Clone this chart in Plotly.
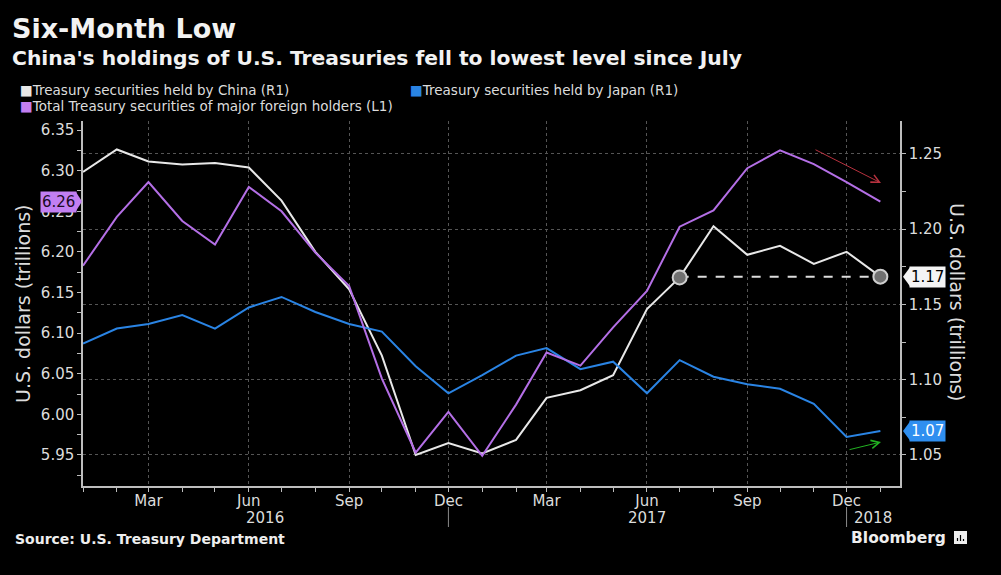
import plotly.graph_objects as go

# ---------------- data ----------------
months = ["2016-01-01", "2016-02-01", "2016-03-01", "2016-04-01", "2016-05-01", "2016-06-01",
          "2016-07-01", "2016-08-01", "2016-09-01", "2016-10-01", "2016-11-01", "2016-12-01",
          "2017-01-01", "2017-02-01", "2017-03-01", "2017-04-01", "2017-05-01", "2017-06-01",
          "2017-07-01", "2017-08-01", "2017-09-01", "2017-10-01", "2017-11-01", "2017-12-01",
          "2018-01-01"]
china = [1.238, 1.253, 1.245, 1.243, 1.244, 1.241, 1.219, 1.185, 1.160, 1.116, 1.050, 1.058,
         1.051, 1.060, 1.088, 1.093, 1.103, 1.147, 1.168, 1.202, 1.183, 1.189, 1.177, 1.185,
         1.1685]
japan = [1.124, 1.134, 1.137, 1.143, 1.134, 1.148, 1.155, 1.145, 1.137, 1.132, 1.109, 1.091,
         1.103, 1.116, 1.121, 1.107, 1.112, 1.091, 1.113, 1.102, 1.097, 1.094, 1.084, 1.062,
         1.066]
total = [6.183, 6.243, 6.286, 6.238, 6.209, 6.280, 6.250, 6.199, 6.158, 6.044, 5.953, 6.003,
         5.949, 6.012, 6.076, 6.060, 6.107, 6.152, 6.231, 6.251, 6.303, 6.325, 6.308, 6.286,
         6.262]
names = ["Treasury securities held by China (R1)",
         "Treasury securities held by Japan (R1)",
         "Total Treasury securities of major foreign holders (L1)"]

# ---------------- layout helpers ----------------
W, H = 1001, 575
PL, PR, PT, PB = 83, 900, 121, 486
def px(x):
    return (x - PL) / (PR - PL)
def py(y):
    return (PB - y) / (PB - PT)

FONT = "DejaVu Sans"
WHITE = "#e8e8e8"
PURPLE = "#b46fe6"
BLUE = "#2a84e4"
TXT = "#dcdcdc"

fig = go.Figure()
fig.add_trace(go.Scatter(x=months, y=china, yaxis="y", mode="lines",
                         line=dict(color=WHITE, width=2), name=names[0]))
fig.add_trace(go.Scatter(x=months, y=japan, yaxis="y", mode="lines",
                         line=dict(color=BLUE, width=2), name=names[1]))
# dashed reference line + markers (latest vs. July level)
fig.add_trace(go.Scatter(x=[months[18], months[24]], y=[china[24], china[24]], yaxis="y",
                         mode="lines", line=dict(color="#dddddd", width=2, dash="dash"),
                         showlegend=False))
fig.add_trace(go.Scatter(x=[months[18], months[24]], y=[china[18], china[24]], yaxis="y",
                         mode="markers",
                         marker=dict(size=14, color="#707070", line=dict(color="#cfcfcf", width=2)),
                         showlegend=False))
fig.add_trace(go.Scatter(x=months, y=total, yaxis="y2", mode="lines",
                         line=dict(color=PURPLE, width=2), name=names[2]))

tickfont = dict(family=FONT, size=15, color=TXT)
axcol = "#bdbdbd"

fig.update_layout(
    width=W, height=H,
    paper_bgcolor="#000000", plot_bgcolor="#000000",
    margin=dict(l=PL, r=W - PR, t=PT, b=H - PB),
    showlegend=False,
    xaxis=dict(type="date", range=["2016-01-01", "2018-01-19"],
               tick0="2016-03-01", dtick="M3", tickformat="%b",
               ticks="outside", ticklen=4, tickcolor=axcol, ticklabelstandoff=-4,
               showline=True, linecolor=axcol, linewidth=1.5,
               showgrid=True, gridcolor="#555555", griddash="dot", gridwidth=1,
               minor=dict(dtick="M1", tick0="2016-01-01", ticks="outside", ticklen=4,
                          tickcolor=axcol, showgrid=False),
               tickfont=tickfont, zeroline=False),
    yaxis=dict(side="right", range=[1.0294, 1.2719], tick0=1.05, dtick=0.05,
               tickformat=".2f", ticks="outside", ticklen=4, tickcolor=axcol,
               showline=True, linecolor=axcol, linewidth=1.5,
               showgrid=True, gridcolor="#555555", griddash="dot", gridwidth=1,
               minor=dict(dtick=0.025, tick0=1.05, ticks="outside", ticklen=4,
                          tickcolor=axcol, showgrid=False),
               tickfont=tickfont, zeroline=False),
    yaxis2=dict(overlaying="y", side="left", range=[5.9118, 6.3611], tick0=5.95, dtick=0.05,
                tickformat=".2f", ticks="outside", ticklen=4, tickcolor=axcol,
                showline=True, linecolor=axcol, linewidth=1.5, showgrid=False,
                minor=dict(dtick=0.025, tick0=5.95, ticks="outside", ticklen=4,
                           tickcolor=axcol, showgrid=False),
                tickfont=tickfont, zeroline=False),
)

ann = []
def text(x, y, s, size, color=TXT, bold=False, anchor="left", angle=0, family=FONT):
    ann.append(dict(xref="paper", yref="paper", x=px(x), y=py(y), text=(f"<b>{s}</b>" if bold else s),
                    showarrow=False, xanchor=anchor, yanchor="middle", textangle=angle,
                    font=dict(family=family, size=size, color=color)))

text(10, 28, "Six-Month Low", 27, color="#f2f2f2", bold=True)
text(10, 58, "China's holdings of U.S. Treasuries fell to lowest level since July", 20.3,
     color="#f2f2f2", bold=True)
# legend
text(18, 90, f"<span style='color:{WHITE}'>■</span>{names[0]}", 13.5)
text(408, 90, f"<span style='color:{BLUE}'>■</span>{names[1]}", 13.5)
text(18, 106, f"<span style='color:#c27ff2'>■</span>{names[2]}", 13.5)
# axis titles
text(23, 304, "U.S. dollars (trillions)", 19, angle=-90, anchor="center")
text(957, 303, "U.S. dollars (trillions)", 19, angle=90, anchor="center")
# year labels
text(265, 518, "2016", 15, anchor="center")
text(647, 518, "2017", 15, anchor="center")
text(873, 518, "2018", 15, anchor="center")
# source / brand
text(13, 539, "Source: U.S. Treasury Department", 14, color="#eeeeee", bold=True)
text(849, 538, "Bloomberg", 15.5, color="#eeeeee", bold=True)

# last-value labels
ann.append(dict(xref="paper", yref="y", x=1, y=china[24], xshift=9, xanchor="left", yanchor="middle",
                text=f"{china[24]:.2f}", showarrow=False, bgcolor="#f4f4f4", borderpad=1,
                font=dict(family=FONT, size=15, color="#000000")))
ann.append(dict(xref="paper", yref="y", x=1, y=japan[24], xshift=9, xanchor="left", yanchor="middle",
                text=f"{japan[24]:.2f}", showarrow=False, bgcolor="#2f8ff0", borderpad=1,
                font=dict(family=FONT, size=15, color="#ffffff")))
ann.append(dict(xref="paper", yref="y2", x=0, y=total[24], xshift=-6, xanchor="right", yanchor="middle",
                text=f"{total[24]:.2f}", showarrow=False, bgcolor="#c27ff2", borderpad=1,
                font=dict(family=FONT, size=15, color="#1a0a24")))

# trend arrows
ann.append(dict(xref="paper", yref="paper", x=px(881), y=py(183), ax=-67, ay=-34,
                showarrow=True, arrowhead=5, arrowsize=1.6, arrowwidth=1, arrowcolor="#b8323f",
                text="", standoff=0))
ann.append(dict(xref="paper", yref="paper", x=px(881), y=py(442), ax=-33, ay=8,
                showarrow=True, arrowhead=5, arrowsize=1.6, arrowwidth=1, arrowcolor="#22b322",
                text="", standoff=0))
fig.update_layout(annotations=ann)

shapes = []
# label pointers
for yref, val, col, xa, path in [("y", china[24], "#f4f4f4", 1, "M 3 0 L 10 -9.5 L 10 9.5 Z"),
                                 ("y", japan[24], "#2f8ff0", 1, "M 3 0 L 10 -9.5 L 10 9.5 Z"),
                                 ("y2", total[24], "#c27ff2", 0, "M -1 0 L -7 -9.5 L -7 9.5 Z")]:
    shapes.append(dict(type="path", xref="paper", yref=yref, xsizemode="pixel", ysizemode="pixel",
                       xanchor=xa, yanchor=val, path=path, fillcolor=col, line=dict(width=0)))
# year separators
for d in ["2016-12-01", "2017-12-01"]:
    shapes.append(dict(type="line", xref="x", yref="paper", x0=d, x1=d, y0=py(527), y1=py(507),
                       line=dict(color="#8a8a8a", width=1)))
# brand icon
shapes.append(dict(type="rect", xref="paper", yref="paper", x0=px(954), x1=px(967), y0=py(544),
                   y1=py(531), fillcolor="#eeeeee", line=dict(width=0)))
for bx, top in [(957.5, 538), (960.5, 535), (963.5, 539)]:
    shapes.append(dict(type="line", xref="paper", yref="paper", x0=px(bx), x1=px(bx), y0=py(541),
                       y1=py(top), line=dict(color="#000000", width=1.2)))
fig.update_layout(shapes=shapes)

fig.write_html("out.html")
